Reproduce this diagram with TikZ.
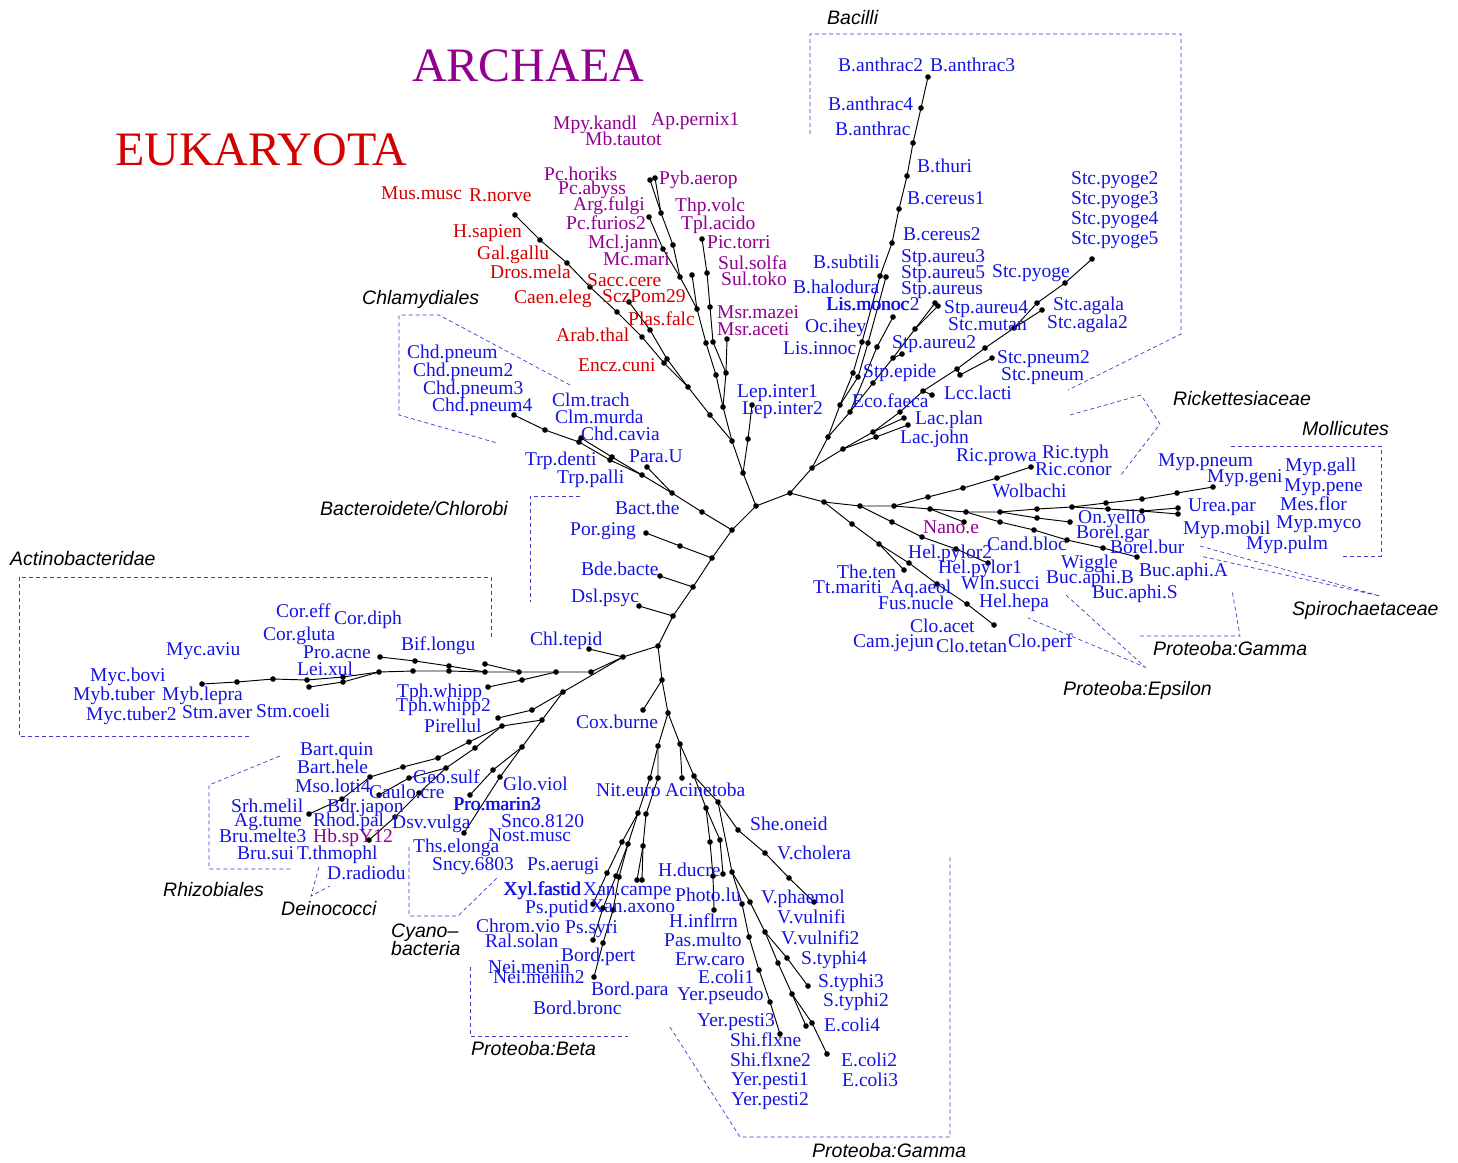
\documentclass[tikz,border=0pt]{standalone}
\usepackage{fontspec}
\setmainfont{Liberation Serif}
\setsansfont{Liberation Sans}
\usetikzlibrary{positioning}
\definecolor{tipblue}{RGB}{20,20,225}
\definecolor{archpurple}{RGB}{145,0,145}
\definecolor{eukred}{RGB}{210,0,0}
\definecolor{boxblue}{RGB}{60,60,200}
\newcounter{tipno}
\newcommand{\nd}[3]{%
	\coordinate (#1) at (#2,#3);
	\fill (#1) circle (2.8pt);}
\newcommand{\tipB}[3]{\stepcounter{tipno}\node[tip,text=tipblue] (t\arabic{tipno}) at (#1,#2) {#3};}
\newcommand{\tipA}[3]{\stepcounter{tipno}\node[tip,text=archpurple] (t\arabic{tipno}) at (#1,#2) {#3};}
\newcommand{\tipE}[3]{\stepcounter{tipno}\node[tip,text=eukred] (t\arabic{tipno}) at (#1,#2) {#3};}
\newcommand{\grpL}[3]{\stepcounter{tipno}\node[grp] (g\arabic{tipno}) at (#1,#2) {#3};}
\begin{document}
\begin{tikzpicture}[x=1pt,y=-1pt,
	br/.style={line width=0.95pt},
	tip/.style={anchor=base west,inner sep=0pt,font=\fontsize{19.5}{20}\selectfont},
	grp/.style={anchor=base west,inner sep=0pt,font=\fontsize{19.5}{20}\selectfont\sffamily\itshape},
	gbox/.style={boxblue,line width=0.7pt,dash pattern=on 4pt off 3pt},
	big/.style={anchor=base west,inner sep=0pt,font=\fontsize{48}{48}\selectfont}]
\useasboundingbox (0,0) rectangle (1458,1162);

% root
\nd{c1}{756}{506} \nd{c2}{790}{493} \nd{ua}{743}{473} \nd{lpa}{748}{439} \nd{lpb}{752}{405} \nd{ub}{732}{441}
\draw[br] (c1) -- (c2);
\draw[br] (c1) -- (ua) -- (lpa) -- (lpb);
\draw[br] (ua) -- (ub);

% eukaryota
\nd{eu}{710}{415} \nd{e7}{688}{387} \nd{e6}{664}{363} \nd{e5}{642}{337} \nd{e4}{617}{312}
\nd{e3}{590}{287} \nd{e2}{567}{263} \nd{e1}{540}{240} \nd{e0}{515}{215}
\nd{f3}{667}{359} \nd{f2}{650}{330} \nd{f1}{629}{302}
\draw[br] (ub) -- (eu) -- (e7) -- (e6) -- (e5) -- (e4) -- (e3) -- (e2) -- (e1) -- (e0);
\draw[br] (e7) -- (f3) -- (f2) -- (f1);

% archaea
\nd{ar}{723}{407} \nd{a6}{716}{375} \nd{a5}{706}{343} \nd{a4}{697}{309} \nd{a3}{680}{277}
\nd{a2}{673}{245} \nd{a1}{661}{213} \nd{a0}{650}{180} \nd{a0b}{655}{178}
\nd{g1}{663}{249} \nd{g0}{649}{217} \nd{mc}{692}{275}
\nd{p6}{726}{373} \nd{p5}{713}{342} \nd{p4}{710}{307} \nd{p3}{707}{273} \nd{p2}{702}{239} \nd{ms}{727}{339}
\draw[br] (ub) -- (ar) -- (a6) -- (a5) -- (a4) -- (a3) -- (a2) -- (a1) -- (a0);
\draw[br] (a1) -- (a0b);
\draw[br] (a3) -- (g1) -- (g0);
\draw[br] (a4) -- (mc);
\draw[br] (ar) -- (p6) -- (p5) -- (p4) -- (p3) -- (p2);
\draw[br] (p6) -- (ms);

% firmicutes
\nd{F1}{812}{468} \nd{F2}{828}{437} \nd{F3}{840}{405}
\nd{B1}{853}{373} \nd{B2}{862}{342} \nd{B3}{880}{276} \nd{B4}{892}{243} \nd{B5}{899}{209}
\nd{B6}{907}{176} \nd{B7}{913}{143} \nd{B8}{921}{108} \nd{B9}{928}{77}
\nd{Bb1}{858}{377} \nd{Bb2}{868}{343} \nd{Bb3}{886}{277}
\nd{H1}{850}{412} \nd{H2}{877}{347} \nd{H3}{893}{317}
\nd{S1}{873}{383} \nd{S2}{893}{358} \nd{S3}{915}{329} \nd{S4}{935}{303} \nd{S2b}{902}{354} \nd{S4b}{938}{306}
\nd{L1}{843}{449} \nd{L2}{873}{432} \nd{L3}{904}{418} \nd{L2b}{876}{437} \nd{L3b}{908}{425}
\nd{L4}{900}{412} \nd{L5}{923}{391} \nd{L6}{932}{395}
\nd{T1}{957}{369} \nd{T2}{985}{348} \nd{T3}{1014}{328} \nd{T4}{1037}{303} \nd{T5}{1065}{283} \nd{T6}{1092}{259}
\nd{T1b}{960}{375} \nd{T2b}{992}{358} \nd{T4b}{1042}{310}
\draw[br] (c2) -- (F1) -- (F2) -- (F3) -- (B1) -- (B2) -- (B3) -- (B4) -- (B5) -- (B6) -- (B7) -- (B8) -- (B9);
\draw[br] (F3) -- (Bb1) -- (Bb2) -- (Bb3);
\draw[br] (F2) -- (H1) -- (H2) -- (H3);
\draw[br] (H1) -- (S1) -- (S2) -- (S3) -- (S4);
\draw[br] (S2) -- (S2b); \draw[br] (S3) -- (S4b);
\draw[br] (F1) -- (L1) -- (L2) -- (L3);
\draw[br] (L1) -- (L2b) -- (L3b);
\draw[br] (L2) -- (L4) -- (L5) -- (T1) -- (T2) -- (T3) -- (T4) -- (T5) -- (T6);
\draw[br] (L5) -- (L6);
\draw[br] (T1) -- (T1b) -- (T2b); \draw[br] (T3) -- (T4b);

% proteobacteria, mollicutes, spirochaetes
\nd{R1}{824}{502} \nd{R2}{860}{506} \nd{R3}{894}{506} \nd{R4}{928}{497} \nd{R5}{963}{488} \nd{R6}{997}{478} \nd{R7}{1031}{467}
\nd{M1}{930}{509} \nd{M2}{966}{512} \nd{M3}{1000}{512} \nd{M4}{1037}{509} \nd{M5}{1072}{507}
\nd{M6}{1106}{503} \nd{M7}{1142}{499} \nd{M8}{1177}{493} \nd{M9}{1213}{487}
\nd{M6b}{1108}{509} \nd{M7b}{1142}{511} \nd{M8b}{1178}{508} \nd{M8c}{1178}{514}
\nd{N1}{964}{522}
\nd{O1}{1000}{522} \nd{O2}{1034}{530} \nd{O3}{1067}{540} \nd{O4}{1103}{548} \nd{O5}{1137}{557}
\nd{P1}{1037}{518} \nd{P2}{1070}{522}
\draw[br] (c2) -- (R1) -- (R2) -- (R3) -- (R4) -- (R5) -- (R6) -- (R7);
\draw[br] (R3) -- (M1) -- (M2) -- (M3) -- (M4) -- (M5) -- (M6) -- (M7) -- (M8) -- (M9);
\draw[br] (M5) -- (M6b) -- (M7b) -- (M8b); \draw[br] (M7b) -- (M8c);
\draw[br] (M1) -- (N1);
\draw[br] (M2) -- (O1) -- (O2) -- (O3) -- (O4) -- (O5);
\draw[br] (M3) -- (P1) -- (P2);

% epsilon, clostridia
\nd{E1}{852}{524} \nd{E2}{879}{544} \nd{E3}{909}{563} \nd{E4}{937}{584} \nd{E5}{967}{604} \nd{E6}{994}{625} \nd{E2b}{904}{570}
\nd{hp1}{892}{522} \nd{hp2}{922}{537} \nd{hp3}{956}{549} \nd{hp4}{988}{563}
\draw[br] (R1) -- (E1) -- (E2) -- (E3) -- (E4) -- (E5) -- (E6);
\draw[br] (E2) -- (E2b);
\draw[br] (R2) -- (hp1) -- (hp2) -- (hp3) -- (hp4);

% chlamydiae, bacteroidetes
\nd{A0}{732}{530}
\nd{K1}{702}{512} \nd{K2}{672}{493} \nd{K3}{642}{475} \nd{K4}{610}{460} \nd{K5}{579}{442} \nd{K6}{545}{430} \nd{K7}{514}{415}
\nd{K2b}{647}{467} \nd{K4b}{612}{457} \nd{K5b}{581}{438}
\nd{D1}{712}{558} \nd{D1a}{680}{546} \nd{D1b}{646}{533}
\nd{D2}{693}{587} \nd{D2a}{660}{576}
\nd{D3}{673}{616} \nd{D3a}{639}{606} \nd{D4}{658}{646}
\draw[br] (c1) -- (A0) -- (K1) -- (K2) -- (K3) -- (K4) -- (K5) -- (K6) -- (K7);
\draw[br] (K2) -- (K2b); \draw[br] (K3) -- (K4b) -- (K5b);
\draw[br] (A0) -- (D1) -- (D2) -- (D3) -- (D4);
\draw[br] (D1) -- (D1a) -- (D1b); \draw[br] (D2) -- (D2a); \draw[br] (D3) -- (D3a);

% actinobacteria
\nd{X0}{623}{657} \nd{X0a}{589}{649}
\nd{X1}{591}{672} \nd{X2}{556}{672} \nd{X3}{519}{672} \nd{X4}{485}{672} \nd{X5}{449}{671} \nd{X6}{413}{671}
\nd{X7}{379}{672} \nd{X8}{343}{677} \nd{X9}{307}{680} \nd{X10}{273}{679} \nd{X11}{237}{682} \nd{X12}{202}{684}
\nd{X8b}{343}{682} \nd{X9b}{309}{687}
\nd{Y1}{449}{666} \nd{Y2}{415}{661} \nd{Y3}{380}{657} \nd{Y4}{485}{664}
\nd{Z1}{522}{680} \nd{Z2}{488}{687}
\draw[br] (D4) -- (X0) -- (X0a);
\draw[br] (X0) -- (X1) -- (X2) -- (X3) -- (X4) -- (X5) -- (X6) -- (X7) -- (X8) -- (X9) -- (X10) -- (X11) -- (X12);
\draw[br] (X7) -- (X8b) -- (X9b);
\draw[br] (X4) -- (Y1) -- (Y2) -- (Y3); \draw[br] (X3) -- (Y4);
\draw[br] (X2) -- (Z1) -- (Z2);

% planctomycetes, alpha, cyanobacteria
\nd{W1}{563}{692} \nd{W2}{532}{710} \nd{W3}{498}{718}
\nd{V1}{542}{720} \nd{V2}{502}{726} \nd{V3}{469}{742} \nd{V4}{438}{758} \nd{V5}{403}{767} \nd{V6}{370}{777} \nd{V7}{342}{799} \nd{V8}{309}{814}
\nd{U1}{475}{748} \nd{U2}{446}{768} \nd{U3}{409}{778} \nd{U4}{419}{793} \nd{U5}{395}{817} \nd{U6}{379}{795} \nd{U7}{369}{840}
\nd{cy1}{522}{747} \nd{cy2}{493}{770} \nd{cy3}{470}{795} \nd{cy2b}{500}{777} \nd{cy4}{464}{833}
\draw[br] (X0) -- (W1) -- (W2) -- (W3);
\draw[br] (W1) -- (V1) -- (V2) -- (V3) -- (V4) -- (V5) -- (V6) -- (V7) -- (V8);
\draw[br] (V2) -- (U1) -- (U2) -- (U3) -- (U6);
\draw[br] (U2) -- (U4) -- (U5) -- (U7);
\draw[br] (V1) -- (cy1) -- (cy2) -- (cy3);
\draw[br] (cy1) -- (cy2b) -- (cy4);

% beta, gamma
\nd{J1}{662}{680} \nd{J1a}{643}{710} \nd{J2}{668}{713} \nd{J3}{658}{746} \nd{J4}{680}{744}
\nd{J5}{650}{778} \nd{J6}{658}{778}
\nd{J7}{638}{813} \nd{J8}{622}{842} \nd{J9}{607}{873} \nd{J10}{593}{904}
\nd{J8b}{628}{844} \nd{J9b}{616}{876} \nd{J10b}{603}{908} \nd{J11b}{593}{940}
\nd{J9c}{619}{877} \nd{J10c}{613}{910} \nd{J11c}{603}{943} \nd{J12}{594}{977}
\nd{Ja}{646}{814} \nd{Jb}{643}{846} \nd{Jc}{637}{880} \nd{Jd}{642}{880}
\nd{J13}{682}{778} \nd{J14}{694}{776}
\draw[br] (D4) -- (J1) -- (J1a);
\draw[br] (J1) -- (J2) -- (J3); \draw[br] (J2) -- (J4);
\draw[br] (J3) -- (J5) -- (J7) -- (J8) -- (J9) -- (J10);
\draw[br] (J7) -- (J8b) -- (J9b) -- (J10b) -- (J11b);
\draw[br] (J8b) -- (J9c) -- (J10c) -- (J11c) -- (J12);
\draw[br] (J3) -- (J6) -- (Ja) -- (Jb) -- (Jc); \draw[br] (Jb) -- (Jd);
\draw[br] (J4) -- (J13); \draw[br] (J4) -- (J14);
\nd{qa}{706}{808} \nd{qb}{710}{842} \nd{qc}{713}{876} \nd{qd}{714}{910} \nd{qb2}{720}{840} \nd{qc2}{723}{874}
\nd{qe}{718}{802} \nd{qf}{738}{830} \nd{qg}{765}{853} \nd{qh}{789}{878} \nd{qi}{814}{902}
\nd{qj}{732}{872} \nd{qk}{742}{904} \nd{ql}{749}{937} \nd{qm}{759}{970} \nd{qn}{770}{1002} \nd{qo}{780}{1034}
\nd{qp}{750}{902} \nd{qq}{765}{932} \nd{qr}{787}{958} \nd{qs}{808}{986}
\nd{qt}{778}{963} \nd{qu}{792}{994} \nd{qv}{806}{1026} \nd{qw}{812}{1023} \nd{qx}{827}{1054}
\draw[br] (J14) -- (qa) -- (qb) -- (qc) -- (qd); \draw[br] (qa) -- (qb2) -- (qc2);
\draw[br] (J14) -- (qe) -- (qf) -- (qg) -- (qh) -- (qi);
\draw[br] (qe) -- (qj) -- (qk) -- (ql) -- (qm) -- (qn) -- (qo);
\draw[br] (qj) -- (qp) -- (qq) -- (qr) -- (qs);
\draw[br] (qq) -- (qt) -- (qu) -- (qv); \draw[br] (qu) -- (qw) -- (qx);

% group boxes
\draw[gbox] (810,134) -- (810,34) -- (1181,34) -- (1181,334) -- (1068,390);
\draw[gbox] (570,385) -- (439,315) -- (399,315) -- (399,415) -- (497,443);
\draw[gbox] (580,496) -- (530,496) -- (530,602);
\draw[gbox] (249,736) -- (19,736) -- (19,577) -- (491,577) -- (491,637);
\draw[gbox] (1070,415) -- (1141,395) -- (1160,424) -- (1121,475);
\draw[gbox] (1231,446) -- (1381,446) -- (1381,556) -- (1341,556);
\draw[gbox] (1200,546) -- (1380,596) -- (1200,556);
\draw[gbox] (1140,636) -- (1240,636) -- (1232,590);
\draw[gbox] (1066,595) -- (1145,667) -- (1028,618);
\draw[gbox] (280,756) -- (209,785) -- (209,869) -- (292,869);
\draw[gbox] (319,867) -- (311,896) -- (330,886);
\draw[gbox] (409,847) -- (409,916) -- (458,916) -- (499,876);
\draw[gbox] (470,967) -- (470,1036) -- (628,1036);
\draw[gbox] (670,1027) -- (740,1137) -- (950,1137) -- (950,857);

% group names
\grpL{827}{24}{Bacilli}
\grpL{362}{304}{Chlamydiales}
\grpL{320}{515}{Bacteroidete/Chlorobi}
\grpL{10}{565}{Actinobacteridae}
\grpL{1173}{405}{Rickettesiaceae}
\grpL{1302}{435}{Mollicutes}
\grpL{1292}{615}{Spirochaetaceae}
\grpL{1153}{655}{Proteoba:Gamma}
\grpL{1063}{695}{Proteoba:Epsilon}
\grpL{163}{896}{Rhizobiales}
\grpL{281}{915}{Deinococci}
\grpL{391}{937}{Cyano--}
\grpL{391}{955}{bacteria}
\grpL{471}{1055}{Proteoba:Beta}
\grpL{812}{1157}{Proteoba:Gamma}

\node[big,text=archpurple] (archaea) at (412,81) {ARCHAEA};
\node[big,text=eukred] (eukaryota) at (115,165) {EUKARYOTA};

% eukaryote tips
\tipE{381}{199}{Mus.musc} \tipE{469}{201}{R.norve} \tipE{453}{237}{H.sapien}
\tipE{477}{259}{Gal.gallu} \tipE{490}{278}{Dros.mela} \tipE{514}{303}{Caen.eleg}
\tipE{587}{286}{Sacc.cere} \tipE{602}{302}{SczPom29} \tipE{628}{325}{Plas.falc}
\tipE{556}{341}{Arab.thal} \tipE{578}{371}{Encz.cuni}

% archaea tips
\tipA{553}{129}{Mpy.kandl} \tipA{585}{145}{Mb.tautot} \tipA{651}{125}{Ap.pernix1}
\tipA{544}{180}{Pc.horiks} \tipA{558}{194}{Pc.abyss} \tipA{659}{184}{Pyb.aerop}
\tipA{573}{210}{Arg.fulgi} \tipA{675}{211}{Thp.volc} \tipA{566}{229}{Pc.furios2}
\tipA{681}{229}{Tpl.acido} \tipA{588}{248}{Mcl.jann} \tipA{707}{248}{Pic.torri}
\tipA{603}{265}{Mc.mari} \tipA{718}{269}{Sul.solfa} \tipA{721}{285}{Sul.toko}
\tipA{717}{318}{Msr.mazei} \tipA{717}{335}{Msr.aceti} \tipA{923}{533}{Nano.e}
\tipA{313}{842}{Hb.spY12}

% firmicutes tips
\tipB{838}{71}{B.anthrac2} \tipB{930}{71}{B.anthrac3} \tipB{828}{110}{B.anthrac4}
\tipB{835}{135}{B.anthrac} \tipB{917}{172}{B.thuri} \tipB{907}{204}{B.cereus1}
\tipB{903}{240}{B.cereus2}
\tipB{1071}{184}{Stc.pyoge2} \tipB{1071}{204}{Stc.pyoge3} \tipB{1071}{224}{Stc.pyoge4} \tipB{1071}{244}{Stc.pyoge5}
\tipB{813}{268}{B.subtili} \tipB{901}{262}{Stp.aureu3} \tipB{901}{278}{Stp.aureu5}
\tipB{992}{277}{Stc.pyoge} \tipB{793}{293}{B.halodura} \tipB{901}{294}{Stp.aureus}
\tipB{826}{310}{Lis.monoc} \tipB{826.7}{310}{Lis.monoc2}
\tipB{944}{313}{Stp.aureu4} \tipB{1053}{310}{Stc.agala} \tipB{805}{332}{Oc.ihey}
\tipB{948}{330}{Stc.mutan} \tipB{1047}{328}{Stc.agala2} \tipB{783}{354}{Lis.innoc}
\tipB{892}{348}{Stp.aureu2} \tipB{997}{363}{Stc.pneum2} \tipB{863}{377}{Stp.epide}
\tipB{1001}{380}{Stc.pneum} \tipB{737}{397}{Lep.inter1} \tipB{742}{414}{Lep.inter2}
\tipB{852}{407}{Eco.faeca} \tipB{944}{399}{Lcc.lacti} \tipB{915}{424}{Lac.plan}
\tipB{900}{443}{Lac.john}

% right side tips
\tipB{956}{461}{Ric.prowa} \tipB{1042}{458}{Ric.typh} \tipB{1035}{475}{Ric.conor}
\tipB{1158}{466}{Myp.pneum} \tipB{1207}{482}{Myp.geni} \tipB{1285}{471}{Myp.gall}
\tipB{1284}{491}{Myp.pene} \tipB{1188}{511}{Urea.par} \tipB{1280}{510}{Mes.flor}
\tipB{1183}{534}{Myp.mobil} \tipB{1276}{528}{Myp.myco} \tipB{1246}{549}{Myp.pulm}
\tipB{992}{497}{Wolbachi} \tipB{1078}{523}{On.yello} \tipB{1076}{538}{Borel.gar}
\tipB{987}{550}{Cand.bloc} \tipB{1110}{553}{Borel.bur} \tipB{908}{558}{Hel.pylor2}
\tipB{1061}{568}{Wiggle} \tipB{837}{578}{The.ten} \tipB{938}{573}{Hel.pylor1}
\tipB{1046}{583}{Buc.aphi.B} \tipB{1139}{576}{Buc.aphi.A} \tipB{813}{593}{Tt.mariti}
\tipB{890}{593}{Aq.aeol} \tipB{961}{589}{Wln.succi} \tipB{1092}{598}{Buc.aphi.S}
\tipB{878}{609}{Fus.nucle} \tipB{979}{607}{Hel.hepa} \tipB{910}{632}{Clo.acet}
\tipB{853}{647}{Cam.jejun} \tipB{936}{652}{Clo.tetan} \tipB{1008}{647}{Clo.perf}

% left side tips
\tipB{407}{358}{Chd.pneum} \tipB{413}{376}{Chd.pneum2} \tipB{423}{394}{Chd.pneum3}
\tipB{432}{411}{Chd.pneum4} \tipB{552}{406}{Clm.trach} \tipB{555}{423}{Clm.murda}
\tipB{581}{440}{Chd.cavia} \tipB{525}{465}{Trp.denti} \tipB{629}{462}{Para.U}
\tipB{557}{483}{Trp.palli} \tipB{615}{514}{Bact.the} \tipB{570}{535}{Por.ging}
\tipB{581}{575}{Bde.bacte} \tipB{571}{602}{Dsl.psyc} \tipB{530}{645}{Chl.tepid}
\tipB{276}{617}{Cor.eff} \tipB{334}{624}{Cor.diph} \tipB{263}{640}{Cor.gluta}
\tipB{166}{655}{Myc.aviu} \tipB{303}{658}{Pro.acne} \tipB{297}{675}{Lei.xul}
\tipB{90}{681}{Myc.bovi} \tipB{73}{700}{Myb.tuber} \tipB{162}{700}{Myb.lepra}
\tipB{86}{720}{Myc.tuber2} \tipB{182}{718}{Stm.aver} \tipB{256}{717}{Stm.coeli}
\tipB{401}{650}{Bif.longu} \tipB{397}{697}{Tph.whipp} \tipB{396}{711}{Tph.whipp2}
\tipB{424}{732}{Pirellul} \tipB{576}{728}{Cox.burne}

% bottom tips
\tipB{300}{755}{Bart.quin} \tipB{297}{773}{Bart.hele} \tipB{295}{792}{Mso.loti4}
\tipB{231}{812}{Srh.melil} \tipB{327}{812}{Bdr.japon} \tipB{369}{798}{Caulo.cre}
\tipB{413}{783}{Geo.sulf} \tipB{503}{790}{Glo.viol} \tipB{234}{826}{Ag.tume}
\tipB{313}{826}{Rhod.pal} \tipB{392}{828}{Dsv.vulga}
\tipB{453}{810}{Pro.marin2} \tipB{453.6}{810.4}{Pro.marin3}
\tipB{501}{827}{Snco.8120} \tipB{219}{842}{Bru.melte3} \tipB{488}{841}{Nost.musc}
\tipB{237}{859}{Bru.sui} \tipB{297}{859}{T.thmophl} \tipB{413}{852}{Ths.elonga}
\tipB{327}{879}{D.radiodu} \tipB{432}{870}{Sncy.6803} \tipB{527}{870}{Ps.aerugi}
\tipB{503}{895}{Xyl.fastid} \tipB{503.7}{895}{Xyl.fastid}
\tipB{583}{895}{Xan.campe} \tipB{675}{901}{Photo.lu}
\tipB{658}{876}{H.ducre} \tipB{525}{913}{Ps.putid} \tipB{590}{912}{Xan.axono}
\tipB{476}{932}{Chrom.vio} \tipB{565}{933}{Ps.syri} \tipB{669}{927}{H.inflrrn}
\tipB{485}{947}{Ral.solan} \tipB{664}{946}{Pas.multo} \tipB{561}{961}{Bord.pert}
\tipB{675}{965}{Erw.caro} \tipB{488}{973}{Nei.menin} \tipB{698}{983}{E.coli1}
\tipB{493}{983}{Nei.menin2} \tipB{591}{995}{Bord.para} \tipB{677}{1000}{Yer.pseudo}
\tipB{533}{1014}{Bord.bronc} \tipB{697}{1026}{Yer.pesti3} \tipB{730}{1046}{Shi.flxne}
\tipB{730}{1066}{Shi.flxne2} \tipB{731}{1085}{Yer.pesti1} \tipB{731}{1105}{Yer.pesti2}
\tipB{750}{830}{She.oneid} \tipB{777}{859}{V.cholera} \tipB{761}{903}{V.phaemol}
\tipB{777}{923}{V.vulnifi} \tipB{781}{944}{V.vulnifi2} \tipB{801}{964}{S.typhi4}
\tipB{818}{987}{S.typhi3} \tipB{823}{1006}{S.typhi2} \tipB{824}{1031}{E.coli4}
\tipB{841}{1066}{E.coli2} \tipB{842}{1086}{E.coli3} \tipB{596}{796}{Nit.euro}
\tipB{665}{796}{Acinetoba}
\end{tikzpicture}
\end{document}
